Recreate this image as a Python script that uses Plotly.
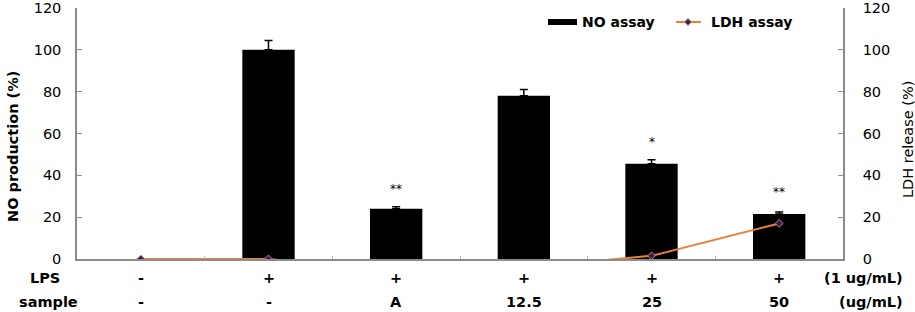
import plotly.graph_objects as go

categories = [0, 1, 2, 3, 4, 5]
lps_labels = ["-", "+", "+", "+", "+", "+"]
sample_labels = ["-", "-", "A", "12.5", "25", "50"]
no_values = [0, 100, 24, 78, 45.5, 21.5]
no_errors = [0, 4.5, 1, 3, 2, 1]
ldh_values = [0, 0, -6, -4, 1.5, 17]
sig_marks = ["", "", "**", "", "*", "**"]
sig_heights = [0, 0, 33.5, 0, 56, 32]
boundary_ticks = [0.5, 1.5, 2.5, 3.5, 4.5]
y_ticks = [0, 20, 40, 60, 80, 100, 120]

FONT = "DejaVu Sans, Liberation Sans, Arial, sans-serif"
AX = "#8c8c8c"
FS = 14.5
ORANGE = "#E8823A"
NAVY = "#2a1f6e"

W, H = 915, 312
ML, MR, MT, MB = 77, 72, 8, 53
PW, PH = W - ML - MR, H - MT - MB


def px(x):
    return (x - ML) / PW


def py(y):
    return (H - MB - y) / PH


fig = go.Figure()
fig.add_trace(go.Bar(
    x=categories, y=no_values, name="NO assay",
    marker=dict(color="black", line=dict(width=0)),
    width=0.41,
    error_y=dict(type="data", array=no_errors, arrayminus=[0]*6, color="black", thickness=1.5, width=4),
))
fig.add_trace(go.Scatter(
    x=categories, y=ldh_values, name="LDH assay", yaxis="y2",
    mode="lines+markers",
    line=dict(color=ORANGE, width=2),
    marker=dict(symbol="diamond", size=6, color=NAVY, line=dict(color=ORANGE, width=1)),
    cliponaxis=True,
))


def txt(x, y, s, xref="x", yref="paper", size=FS, xanchor="center", bold=True, angle=0):
    return dict(x=x, y=y, xref=xref, yref=yref, text=("<b>" + s + "</b>") if bold else s,
                showarrow=False, xanchor=xanchor, yanchor="middle", textangle=angle,
                font=dict(size=size, family=FONT, color="#000000"))


ann = []
for c, l, s in zip(categories, lps_labels, sample_labels):
    ann.append(txt(c, -0.075, l))
    ann.append(txt(c, -0.17, s))
for c, m, h in zip(categories, sig_marks, sig_heights):
    if m:
        ann.append(txt(c, h, m, yref="y", size=12, bold=False))
ann.append(txt(-0.019, -0.075, "LPS", xref="paper", xanchor="right"))
ann.append(txt(0.004, -0.17, "sample", xref="paper", xanchor="right"))
ann.append(txt(1.081, -0.075, "(1 ug/mL)", xref="paper", xanchor="right"))
ann.append(txt(1.081, -0.17, "(ug/mL)", xref="paper", xanchor="right"))
# axis titles
ann.append(txt(px(13), py(147), "NO production (%)", xref="paper", angle=-90))
ann.append(txt(px(908), py(140), "LDH release (%)", xref="paper", angle=-90, bold=False))
# legend texts
ann.append(txt(px(580), py(22), "NO assay", xref="paper", xanchor="left", size=14))
ann.append(txt(px(709), py(22), "LDH assay", xref="paper", xanchor="left", size=14))

dx, dy = 3.5 / PW, 3.5 / PH
cx, cy = px(688), py(22)
shapes = [
    dict(type="rect", xref="paper", yref="paper", x0=px(548), x1=px(577), y0=py(25), y1=py(19),
         fillcolor="black", line=dict(width=0)),
    dict(type="line", xref="paper", yref="paper", x0=px(676), x1=px(701), y0=cy, y1=cy,
         line=dict(color=ORANGE, width=2)),
    dict(type="path", xref="paper", yref="paper",
         path=f"M {cx-dx},{cy} L {cx},{cy+dy} L {cx+dx},{cy} L {cx},{cy-dy} Z",
         fillcolor=NAVY, line=dict(color=ORANGE, width=1)),
]

fig.update_layout(
    width=W, height=H,
    margin=dict(l=ML, r=MR, t=MT, b=MB, autoexpand=False),
    paper_bgcolor="white", plot_bgcolor="white",
    font=dict(family=FONT, color="black"),
    showlegend=False,
    xaxis=dict(range=[-0.5, 5.5], showticklabels=False, showline=True, linecolor=AX, linewidth=1.5,
               tickvals=boundary_ticks, ticks="inside", ticklen=3, tickcolor="#bbbbbb",
               showgrid=False, zeroline=False, automargin=False),
    yaxis=dict(range=[0, 120], tickvals=y_ticks, showline=True, linecolor=AX,
               linewidth=1.5, ticks="inside", ticklen=5, tickcolor=AX, showgrid=False, zeroline=False,
               ticklabelstandoff=11,
               tickfont=dict(size=FS, family=FONT, color="black"), automargin=False),
    yaxis2=dict(range=[0, 120], tickvals=y_ticks, overlaying="y", side="right",
                showline=True, linecolor=AX, linewidth=1.5, ticks="inside", ticklen=5, tickcolor=AX,
                showgrid=False, zeroline=False, automargin=False, ticklabelstandoff=15,
                tickfont=dict(size=FS, family=FONT, color="black")),
    annotations=ann,
    shapes=shapes,
)
fig.update_yaxes(tickprefix="<b>", ticksuffix="</b>")
fig.write_html("out.html")
